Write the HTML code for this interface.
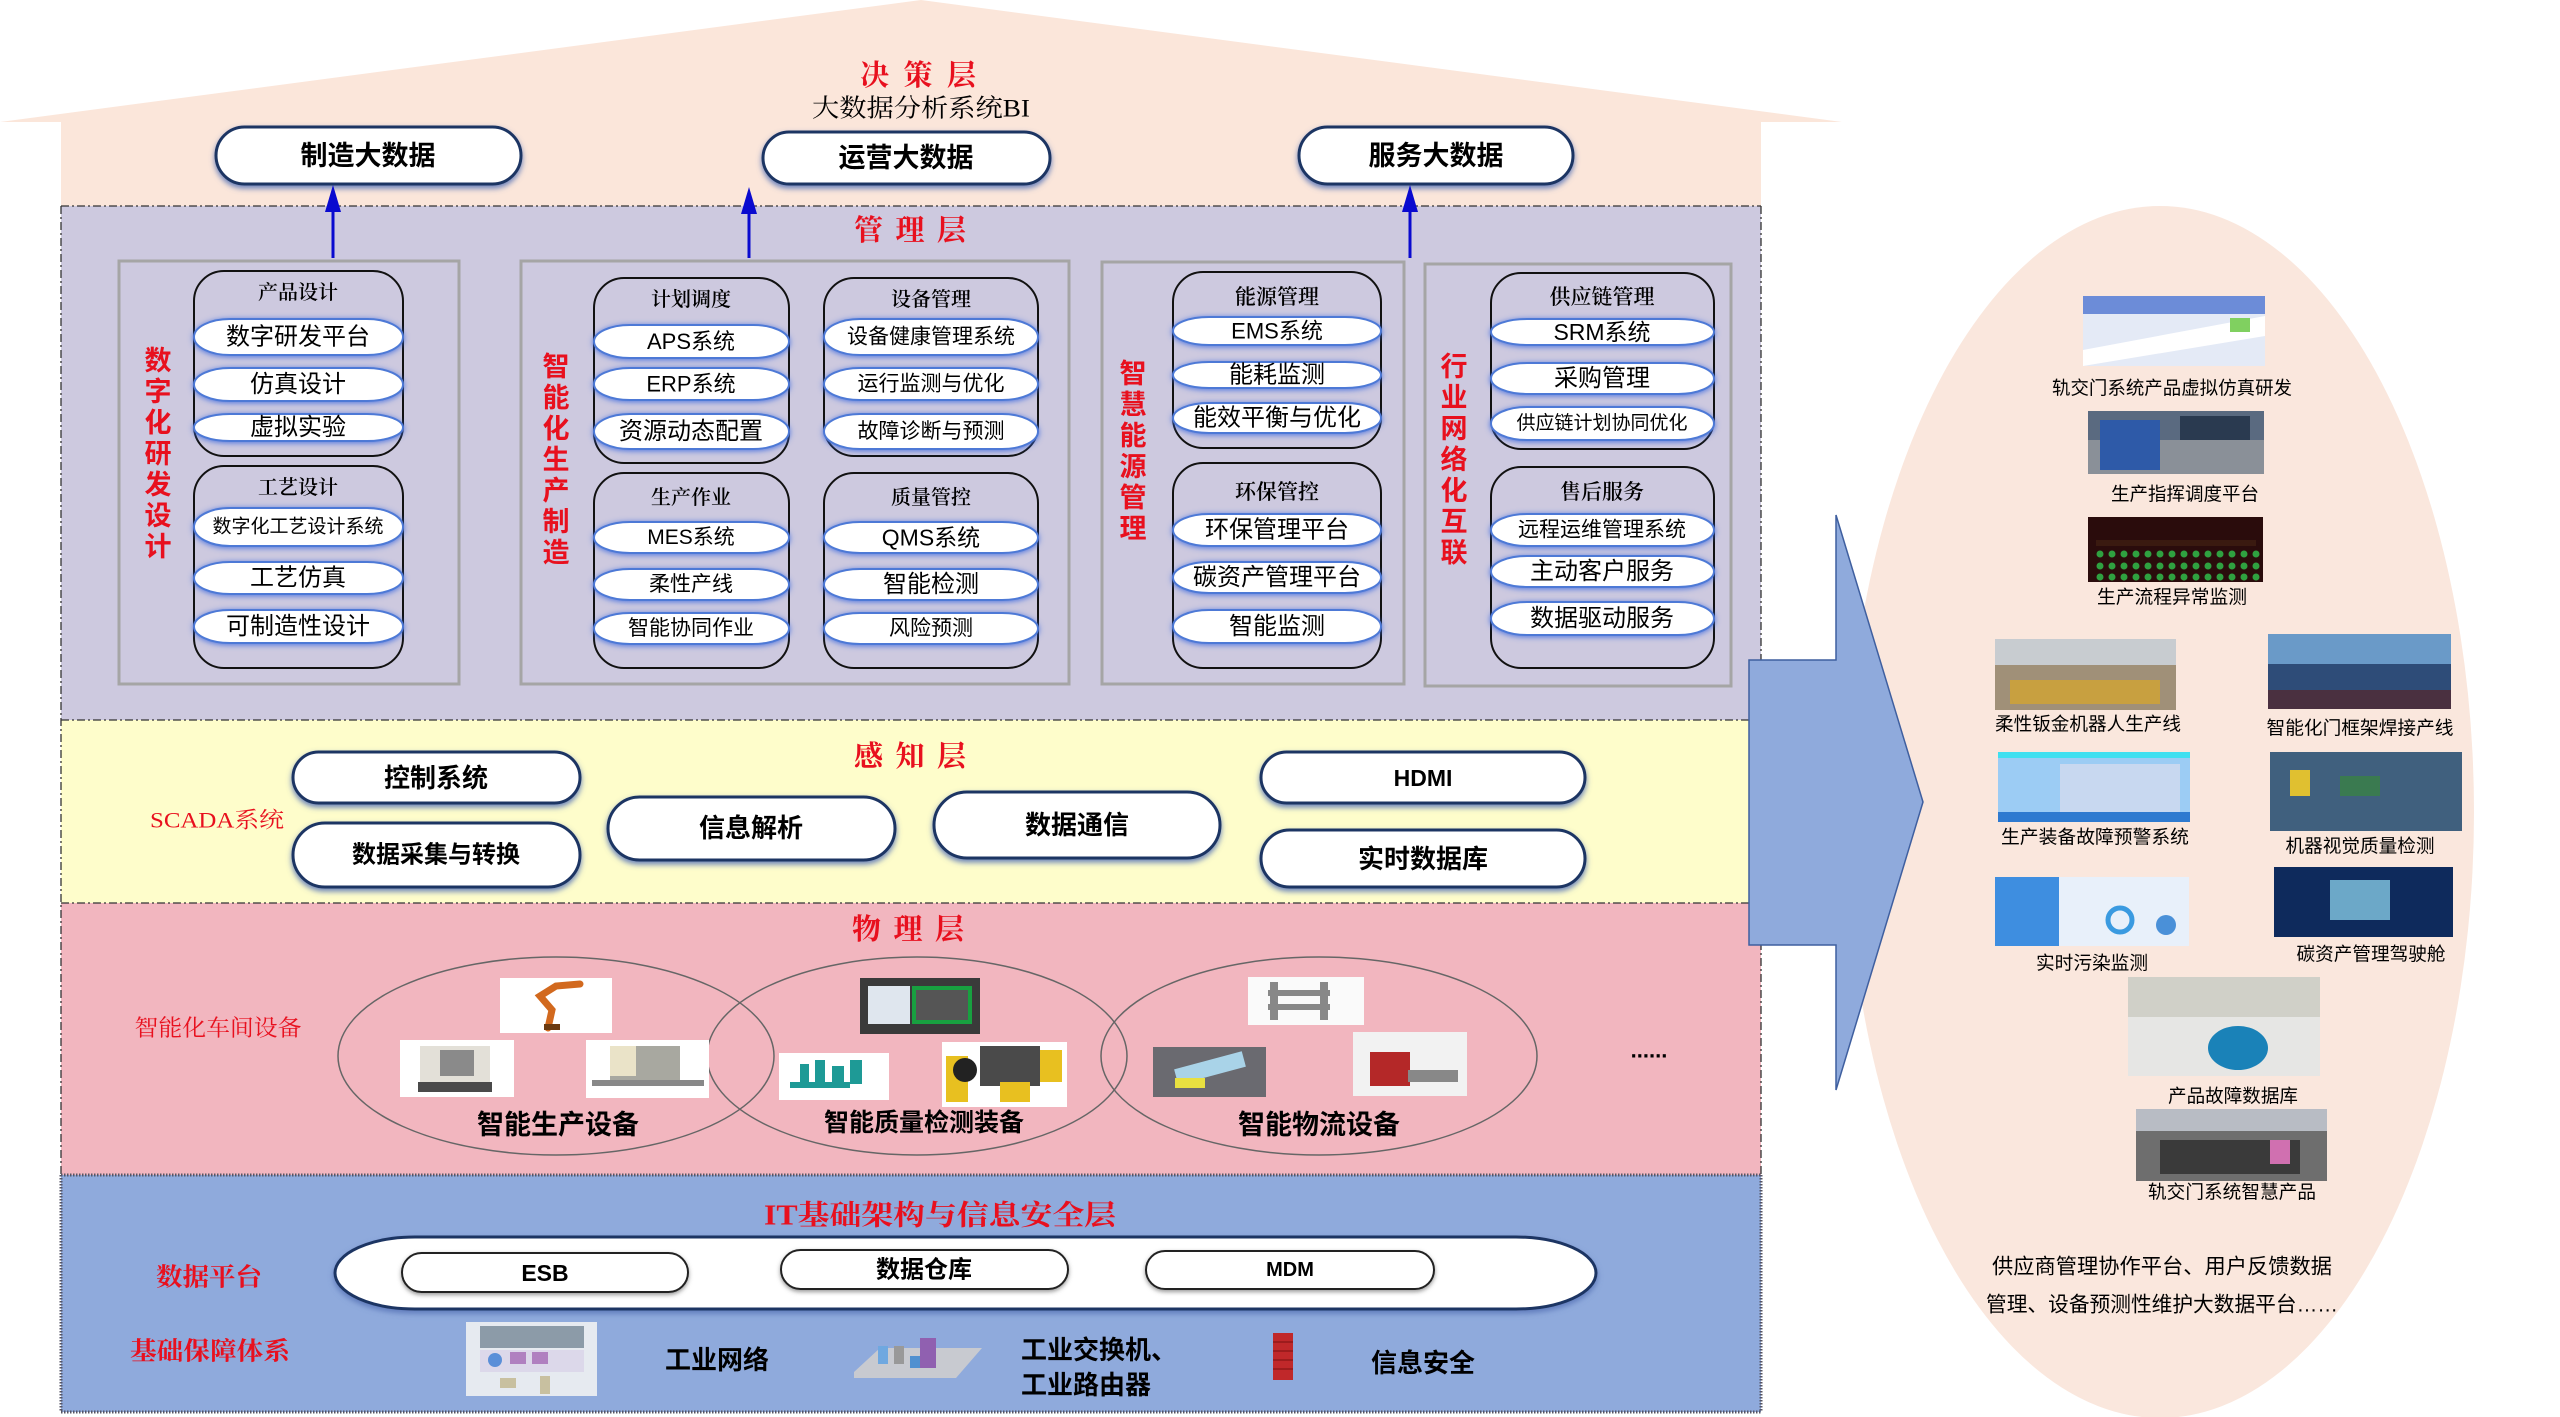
<!DOCTYPE html>
<html><head><meta charset="utf-8">
<style>
html,body{margin:0;padding:0;background:#fff;}
svg{display:block}
text{dominant-baseline:central;text-anchor:middle;fill:#000;}
.s{font-family:"Liberation Sans","Noto Sans CJK SC",sans-serif;}
.sf{font-family:"Liberation Serif","Noto Serif CJK SC",serif;}
.b{font-weight:bold}
text.r{fill:#E8101E}
.mp{fill:#fff;stroke:#4D79D6;stroke-width:2;filter:url(#glow)}
.tp{fill:#fff;stroke:#1F3563;stroke-width:3;filter:url(#sh)}
.ip{fill:#fff;stroke:#222;stroke-width:2;filter:url(#sh2)}
.grp{fill:none;stroke:#111;stroke-width:2}
.box{fill:none;stroke:#A5A5A5;stroke-width:3}
text.l{text-anchor:start}
</style></head><body>
<svg width="2560" height="1417" viewBox="0 0 2560 1417" xmlns="http://www.w3.org/2000/svg">
<defs>
<filter id="glow" x="-20%" y="-60%" width="140%" height="220%"><feDropShadow dx="0" dy="1" stdDeviation="3" flood-color="#3D6AE0" flood-opacity="0.9"/></filter>
<filter id="sh" x="-20%" y="-60%" width="140%" height="220%"><feDropShadow dx="0" dy="3" stdDeviation="3" flood-color="#5874B8" flood-opacity="0.9"/></filter>
<filter id="sh2" x="-20%" y="-60%" width="140%" height="220%"><feDropShadow dx="0" dy="2" stdDeviation="2" flood-color="#555" flood-opacity="0.6"/></filter>
</defs>

<!-- right ellipse -->
<ellipse cx="2160" cy="812" rx="314" ry="606" fill="#FAE7DD"/>

<!-- roof / decision layer -->
<polygon points="0,122 921,0 1842,122" fill="#FBE6DA"/>
<rect x="61" y="121" width="1700" height="86" fill="#FBE6DA"/>

<!-- layers -->
<rect x="61" y="206" width="1700" height="514" fill="#CDC9DF"/>
<rect x="61" y="720" width="1700" height="183" fill="#FEFDCB"/>
<rect x="61" y="903" width="1700" height="272" fill="#F2B6BF"/>
<rect x="61" y="1175" width="1700" height="237" fill="#8FAADC"/>
<path d="M61,206 H1761 M61,206 V1175 M1761,206 V1175 M61,720 H1761 M61,903 H1761" stroke="#333" stroke-width="1.3" stroke-dasharray="8,3,2,3" fill="none"/>
<path d="M61,1175 H1761 M61,1412 H1761 M1761,1175 V1412 M61,1175 V1412" stroke="#556" stroke-width="3" stroke-dasharray="1.5,1.5" fill="none"/>

<!-- decision layer text -->
<text class="sf b r" x="918" y="76" font-size="29" textLength="116" lengthAdjust="spacing">决策层</text>
<text class="sf" x="921" y="109" font-size="25" textLength="218" lengthAdjust="spacingAndGlyphs">大数据分析系统BI</text>

<rect class="tp" x="216" y="127" width="305" height="57" rx="28.5"/>
<text class="s b" x="368" y="156" font-size="27">制造大数据</text>
<rect class="tp" x="763" y="132" width="287" height="52" rx="26"/>
<text class="s b" x="906" y="158" font-size="27">运营大数据</text>
<rect class="tp" x="1299" y="127" width="274" height="57" rx="28.5"/>
<text class="s b" x="1436" y="156" font-size="27">服务大数据</text>

<!-- arrows -->
<g stroke="#0A0ACF" stroke-width="3">
<line x1="333" y1="258" x2="333" y2="205"/>
<line x1="749" y1="258" x2="749" y2="207"/>
<line x1="1410" y1="258" x2="1410" y2="205"/>
</g>
<g fill="#0A0ACF">
<polygon points="325,212 333,185 341,212"/>
<polygon points="741,214 749,187 757,214"/>
<polygon points="1402,212 1410,185 1418,212"/>
</g>

<text class="sf b r" x="910" y="231" font-size="29" textLength="112" lengthAdjust="spacing">管理层</text>

<!-- management boxes -->
<rect class="box" x="119" y="261" width="340" height="423"/>
<rect class="box" x="521" y="261" width="548" height="423"/>
<rect class="box" x="1102" y="262" width="302" height="422"/>
<rect class="box" x="1425" y="264" width="306" height="422"/>

<!-- vertical red labels -->
<g class="s b" font-size="27">
<text class="r" x="158" y="361">数</text><text class="r" x="158" y="392">字</text><text class="r" x="158" y="423">化</text><text class="r" x="158" y="454">研</text><text class="r" x="158" y="485">发</text><text class="r" x="158" y="516">设</text><text class="r" x="158" y="547">计</text>
<text class="r" x="556" y="367">智</text><text class="r" x="556" y="398">能</text><text class="r" x="556" y="429">化</text><text class="r" x="556" y="460">生</text><text class="r" x="556" y="491">产</text><text class="r" x="556" y="522">制</text><text class="r" x="556" y="553">造</text>
<text class="r" x="1133" y="374">智</text><text class="r" x="1133" y="405">慧</text><text class="r" x="1133" y="436">能</text><text class="r" x="1133" y="467">源</text><text class="r" x="1133" y="498">管</text><text class="r" x="1133" y="529">理</text>
<text class="r" x="1454" y="367">行</text><text class="r" x="1454" y="398">业</text><text class="r" x="1454" y="429">网</text><text class="r" x="1454" y="460">络</text><text class="r" x="1454" y="491">化</text><text class="r" x="1454" y="522">互</text><text class="r" x="1454" y="553">联</text>
</g>

<!-- groups -->
<rect class="grp" x="194" y="271" width="209" height="185" rx="30"/>
<rect class="grp" x="194" y="466" width="209" height="202" rx="30"/>
<rect class="grp" x="594" y="278" width="195" height="185" rx="30"/>
<rect class="grp" x="824" y="278" width="214" height="178" rx="30"/>
<rect class="grp" x="594" y="473" width="195" height="195" rx="30"/>
<rect class="grp" x="824" y="473" width="214" height="195" rx="30"/>
<rect class="grp" x="1173" y="272" width="208" height="176" rx="30"/>
<rect class="grp" x="1173" y="463" width="208" height="205" rx="30"/>
<rect class="grp" x="1491" y="273" width="223" height="176" rx="30"/>
<rect class="grp" x="1491" y="467" width="223" height="201" rx="30"/>

<!-- group titles -->
<g class="sf" font-size="20" font-weight="600">
<text x="298" y="293">产品设计</text>
<text x="298" y="488">工艺设计</text>
<text x="691" y="300">计划调度</text>
<text x="931" y="300">设备管理</text>
<text x="691" y="498">生产作业</text>
<text x="931" y="498">质量管控</text>
<text x="1277" y="297" font-size="21">能源管理</text>
<text x="1277" y="492" font-size="21">环保管控</text>
<text x="1602" y="297" font-size="21">供应链管理</text>
<text x="1602" y="492" font-size="21">售后服务</text>
</g>

<!-- management pills -->
<g>
<rect class="mp" x="194" y="319" width="209" height="36" rx="36" ry="18"/>
<rect class="mp" x="194" y="368" width="209" height="33" rx="36" ry="16.5"/>
<rect class="mp" x="194" y="414" width="209" height="27" rx="36" ry="13.5"/>
<rect class="mp" x="194" y="508" width="209" height="38" rx="36" ry="19"/>
<rect class="mp" x="194" y="562" width="209" height="32" rx="36" ry="16"/>
<rect class="mp" x="194" y="610" width="209" height="33" rx="36" ry="16.5"/>

<rect class="mp" x="594" y="325" width="195" height="33" rx="36" ry="16.5"/>
<rect class="mp" x="594" y="368" width="195" height="32" rx="36" ry="16"/>
<rect class="mp" x="594" y="414" width="195" height="35" rx="36" ry="17.5"/>
<rect class="mp" x="824" y="319" width="214" height="36" rx="36" ry="18"/>
<rect class="mp" x="824" y="368" width="214" height="32" rx="36" ry="16"/>
<rect class="mp" x="824" y="414" width="214" height="35" rx="36" ry="17.5"/>
<rect class="mp" x="594" y="522" width="195" height="31" rx="36" ry="15.5"/>
<rect class="mp" x="594" y="569" width="195" height="31" rx="36" ry="15.5"/>
<rect class="mp" x="594" y="613" width="195" height="31" rx="36" ry="15.5"/>
<rect class="mp" x="824" y="522" width="214" height="31" rx="36" ry="15.5"/>
<rect class="mp" x="824" y="569" width="214" height="31" rx="36" ry="15.5"/>
<rect class="mp" x="824" y="613" width="214" height="31" rx="36" ry="15.5"/>

<rect class="mp" x="1173" y="317" width="208" height="28" rx="36" ry="14"/>
<rect class="mp" x="1173" y="362" width="208" height="26" rx="36" ry="13"/>
<rect class="mp" x="1173" y="403" width="208" height="30" rx="36" ry="15"/>
<rect class="mp" x="1173" y="514" width="208" height="32" rx="36" ry="16"/>
<rect class="mp" x="1173" y="562" width="208" height="31" rx="36" ry="15.5"/>
<rect class="mp" x="1173" y="610" width="208" height="33" rx="36" ry="16.5"/>

<rect class="mp" x="1491" y="319" width="223" height="26" rx="36" ry="13"/>
<rect class="mp" x="1491" y="363" width="223" height="31" rx="36" ry="15.5"/>
<rect class="mp" x="1491" y="407" width="223" height="33" rx="36" ry="16.5"/>
<rect class="mp" x="1491" y="514" width="223" height="32" rx="36" ry="16"/>
<rect class="mp" x="1491" y="556" width="223" height="31" rx="36" ry="15.5"/>
<rect class="mp" x="1491" y="602" width="223" height="33" rx="36" ry="16.5"/>
</g>
<g class="s">
<text x="298" y="337" font-size="24">数字研发平台</text>
<text x="298" y="384.5" font-size="24">仿真设计</text>
<text x="298" y="427.5" font-size="24">虚拟实验</text>
<text x="298" y="527" font-size="19">数字化工艺设计系统</text>
<text x="298" y="578" font-size="24">工艺仿真</text>
<text x="298" y="626.5" font-size="24">可制造性设计</text>

<text x="691" y="341.5" font-size="22">APS系统</text>
<text x="691" y="384" font-size="22">ERP系统</text>
<text x="691" y="431.5" font-size="24">资源动态配置</text>
<text x="931" y="337" font-size="21">设备健康管理系统</text>
<text x="931" y="384" font-size="21">运行监测与优化</text>
<text x="931" y="431.5" font-size="21">故障诊断与预测</text>
<text x="691" y="537.5" font-size="21">MES系统</text>
<text x="691" y="584.5" font-size="21">柔性产线</text>
<text x="691" y="628.5" font-size="21">智能协同作业</text>
<text x="931" y="537.5" font-size="23">QMS系统</text>
<text x="931" y="584.5" font-size="24">智能检测</text>
<text x="931" y="628.5" font-size="21">风险预测</text>

<text x="1277" y="331" font-size="22">EMS系统</text>
<text x="1277" y="375" font-size="24">能耗监测</text>
<text x="1277" y="418" font-size="24">能效平衡与优化</text>
<text x="1277" y="530" font-size="24">环保管理平台</text>
<text x="1277" y="577.5" font-size="24">碳资产管理平台</text>
<text x="1277" y="626.5" font-size="24">智能监测</text>

<text x="1602" y="332" font-size="23">SRM系统</text>
<text x="1602" y="378.5" font-size="24">采购管理</text>
<text x="1602" y="423.5" font-size="19">供应链计划协同优化</text>
<text x="1602" y="530" font-size="21">远程运维管理系统</text>
<text x="1602" y="571.5" font-size="24">主动客户服务</text>
<text x="1602" y="618.5" font-size="24">数据驱动服务</text>
</g>

<!-- sensing layer -->
<text class="sf b r" x="910" y="757" font-size="29" textLength="112" lengthAdjust="spacing">感知层</text>
<text class="sf r" x="217" y="820" font-size="22" textLength="134" lengthAdjust="spacingAndGlyphs">SCADA系统</text>

<rect class="tp" x="293" y="752" width="287" height="51" rx="25.5"/>
<text class="s b" x="436" y="778" font-size="26">控制系统</text>
<rect class="tp" x="293" y="823" width="287" height="64" rx="32"/>
<text class="s b" x="436" y="855" font-size="24">数据采集与转换</text>
<rect class="tp" x="608" y="797" width="287" height="63" rx="31.5"/>
<text class="s b" x="751" y="828" font-size="26">信息解析</text>
<rect class="tp" x="934" y="792" width="286" height="66" rx="33"/>
<text class="s b" x="1077" y="825" font-size="26">数据通信</text>
<rect class="tp" x="1261" y="752" width="324" height="51" rx="25.5"/>
<text class="s b" x="1423" y="778" font-size="23">HDMI</text>
<rect class="tp" x="1261" y="830" width="324" height="57" rx="28.5"/>
<text class="s b" x="1423" y="859" font-size="26">实时数据库</text>

<!-- physical layer -->
<text class="sf b r" x="908" y="930" font-size="29" textLength="112" lengthAdjust="spacing">物理层</text>
<text class="sf r" x="218" y="1028" font-size="23" textLength="167" lengthAdjust="spacingAndGlyphs">智能化车间设备</text>

<g fill="none" stroke="#666" stroke-width="1.5">
<ellipse cx="556" cy="1056" rx="218" ry="99"/>
<ellipse cx="917" cy="1056" rx="210" ry="99"/>
<ellipse cx="1319" cy="1056" rx="218" ry="99"/>
</g>
<!-- equipment images -->
<rect x="500" y="978" width="112" height="55" fill="#fff"/>
<path d="M548,1028 L552,1010 L540,996 L556,986 L580,984" stroke="#D2691E" stroke-width="7" fill="none" stroke-linecap="round"/>
<rect x="544" y="1024" width="16" height="6" fill="#6b3a10"/>
<rect x="400" y="1040" width="114" height="57" fill="#fff"/>
<rect x="420" y="1046" width="70" height="36" fill="#E3E0D8"/>
<rect x="440" y="1050" width="34" height="26" fill="#8A8A8A"/>
<rect x="418" y="1082" width="74" height="10" fill="#4a4a4a"/>
<rect x="586" y="1040" width="123" height="58" fill="#fff"/>
<rect x="610" y="1046" width="70" height="34" fill="#A8A8A0"/>
<rect x="610" y="1046" width="26" height="30" fill="#EAE3C8"/>
<rect x="592" y="1080" width="112" height="6" fill="#888"/>
<rect x="860" y="978" width="120" height="56" fill="#3a3a3a"/>
<rect x="868" y="986" width="42" height="38" fill="#dfe6ee"/>
<rect x="912" y="986" width="60" height="38" fill="#18a040"/>
<rect x="916" y="990" width="52" height="30" fill="#555"/>
<rect x="779" y="1053" width="110" height="47" fill="#fff"/>
<g fill="#1E9A96"><rect x="800" y="1064" width="9" height="22"/><rect x="815" y="1060" width="10" height="28"/><rect x="832" y="1066" width="12" height="18"/><rect x="850" y="1060" width="12" height="24"/><rect x="790" y="1082" width="60" height="6"/></g>
<rect x="942" y="1042" width="125" height="65" fill="#fff"/>
<rect x="980" y="1046" width="60" height="40" fill="#4a4a4a"/>
<rect x="946" y="1056" width="22" height="46" fill="#E8C020"/>
<circle cx="965" cy="1070" r="12" fill="#222"/>
<rect x="1040" y="1050" width="22" height="32" fill="#E8C020"/>
<rect x="1000" y="1082" width="30" height="20" fill="#E8C020"/>
<rect x="1248" y="977" width="116" height="48" fill="#fafafa"/>
<g fill="#888"><rect x="1270" y="982" width="8" height="38"/><rect x="1320" y="982" width="8" height="38"/><rect x="1268" y="990" width="62" height="6"/><rect x="1268" y="1004" width="62" height="6"/></g>
<rect x="1153" y="1047" width="113" height="50" fill="#6a6a70"/>
<rect x="1175" y="1060" width="70" height="16" fill="#A9D3E8" transform="rotate(-15 1210 1068)"/>
<rect x="1175" y="1078" width="30" height="10" fill="#E8E040"/>
<rect x="1353" y="1032" width="114" height="64" fill="#f2f2f2"/>
<rect x="1370" y="1052" width="40" height="34" fill="#B42828"/>
<rect x="1408" y="1070" width="50" height="12" fill="#888"/>

<g class="s b" font-size="27">
<text x="558" y="1125">智能生产设备</text>
<text x="924" y="1123" font-size="25">智能质量检测装备</text>
<text x="1319" y="1125">智能物流设备</text>
</g>
<text class="s b" x="1649" y="1050" font-size="22">......</text>

<!-- IT layer -->
<text class="sf b r" x="940" y="1216" font-size="28" textLength="352" lengthAdjust="spacingAndGlyphs">IT基础架构与信息安全层</text>
<rect class="tp" x="335" y="1237" width="1261" height="72" rx="80" ry="36"/>
<rect class="ip" x="402" y="1253" width="286" height="39" rx="19.5"/>
<text class="s b" x="545" y="1273" font-size="23">ESB</text>
<rect class="ip" x="781" y="1250" width="287" height="39" rx="19.5"/>
<text class="s b" x="924" y="1270" font-size="24">数据仓库</text>
<rect class="ip" x="1146" y="1251" width="288" height="38" rx="19"/>
<text class="s b" x="1290" y="1270" font-size="20">MDM</text>

<text class="sf b r" x="209" y="1278" font-size="25" textLength="106" lengthAdjust="spacingAndGlyphs">数据平台</text>
<text class="sf b r" x="210" y="1352" font-size="25" textLength="160" lengthAdjust="spacingAndGlyphs">基础保障体系</text>

<rect x="466" y="1322" width="131" height="74" fill="#E6EAF0"/>
<rect x="480" y="1326" width="104" height="22" fill="#8C9BA8"/>
<rect x="480" y="1350" width="104" height="22" fill="#DCD8EA"/>
<circle cx="495" cy="1360" r="7" fill="#5B8FD8"/>
<rect x="510" y="1352" width="16" height="12" fill="#B080C0"/>
<rect x="532" y="1352" width="16" height="12" fill="#B080C0"/>
<rect x="500" y="1378" width="16" height="10" fill="#C8C0A0"/>
<rect x="540" y="1376" width="10" height="18" fill="#C8C0A0"/>
<text class="s b" x="717" y="1360" font-size="26">工业网络</text>

<polygon points="854,1372 880,1348 982,1348 956,1378 854,1378" fill="#C8CAD0"/>
<rect x="878" y="1346" width="10" height="18" fill="#6FA8E0"/>
<rect x="894" y="1346" width="10" height="18" fill="#999"/>
<rect x="920" y="1338" width="16" height="30" fill="#9060B0"/>
<rect x="910" y="1356" width="10" height="12" fill="#5090D0"/>
<text class="s b l" x="1021" y="1350" font-size="26">工业交换机、</text>
<text class="s b l" x="1021" y="1385" font-size="26">工业路由器</text>

<rect x="1273" y="1333" width="20" height="47" fill="#C0282A"/>
<g stroke="#7a1010" stroke-width="1"><line x1="1273" y1="1342" x2="1293" y2="1342"/><line x1="1273" y1="1351" x2="1293" y2="1351"/><line x1="1273" y1="1360" x2="1293" y2="1360"/><line x1="1273" y1="1369" x2="1293" y2="1369"/></g>
<text class="s b" x="1423" y="1363" font-size="26">信息安全</text>

<!-- big arrow -->
<polygon points="1749,660 1836,660 1836,515 1923,802 1836,1090 1836,945 1749,945" fill="#8FAADC" stroke="#3F5F9F" stroke-width="1.5"/>

<!-- ellipse images -->
<rect x="2083" y="296" width="182" height="70" fill="#E4EAF6"/>
<rect x="2083" y="296" width="182" height="18" fill="#6C8CD8"/>
<path d="M2083,350 L2265,316 L2265,336 L2083,366 Z" fill="#FFFFFF"/>
<rect x="2230" y="318" width="20" height="14" fill="#80D060"/>
<rect x="2088" y="411" width="176" height="63" fill="#5A6A80"/>
<rect x="2088" y="440" width="176" height="34" fill="#8A9098"/>
<rect x="2100" y="420" width="60" height="50" fill="#2E5AA8"/>
<rect x="2180" y="416" width="70" height="24" fill="#2A3A50"/>
<rect x="2088" y="517" width="175" height="65" fill="#2A0C0C"/>
<g fill="#2FA040">
<rect x="2096" y="540" width="160" height="6" fill="#3a1a10"/>
<circle cx="2100" cy="554" r="3.5"/><circle cx="2112" cy="554" r="3.5"/><circle cx="2124" cy="554" r="3.5"/><circle cx="2136" cy="554" r="3.5"/><circle cx="2148" cy="554" r="3.5"/><circle cx="2160" cy="554" r="3.5"/><circle cx="2172" cy="554" r="3.5"/><circle cx="2184" cy="554" r="3.5"/><circle cx="2196" cy="554" r="3.5"/><circle cx="2208" cy="554" r="3.5"/><circle cx="2220" cy="554" r="3.5"/><circle cx="2232" cy="554" r="3.5"/><circle cx="2244" cy="554" r="3.5"/><circle cx="2256" cy="554" r="3.5"/>
<circle cx="2100" cy="566" r="3.5"/><circle cx="2112" cy="566" r="3.5"/><circle cx="2124" cy="566" r="3.5"/><circle cx="2136" cy="566" r="3.5"/><circle cx="2148" cy="566" r="3.5"/><circle cx="2160" cy="566" r="3.5"/><circle cx="2172" cy="566" r="3.5"/><circle cx="2184" cy="566" r="3.5"/><circle cx="2196" cy="566" r="3.5"/><circle cx="2208" cy="566" r="3.5"/><circle cx="2220" cy="566" r="3.5"/><circle cx="2232" cy="566" r="3.5"/><circle cx="2244" cy="566" r="3.5"/><circle cx="2256" cy="566" r="3.5"/>
<circle cx="2100" cy="577" r="3.5"/><circle cx="2112" cy="577" r="3.5"/><circle cx="2124" cy="577" r="3.5"/><circle cx="2136" cy="577" r="3.5"/><circle cx="2148" cy="577" r="3.5"/><circle cx="2160" cy="577" r="3.5"/><circle cx="2172" cy="577" r="3.5"/><circle cx="2184" cy="577" r="3.5"/><circle cx="2196" cy="577" r="3.5"/><circle cx="2208" cy="577" r="3.5"/><circle cx="2220" cy="577" r="3.5"/><circle cx="2232" cy="577" r="3.5"/><circle cx="2244" cy="577" r="3.5"/><circle cx="2256" cy="577" r="3.5"/>
</g>
<rect x="1995" y="639" width="181" height="71" fill="#A09078"/>
<rect x="1995" y="639" width="181" height="26" fill="#C8CCD0"/>
<rect x="2010" y="680" width="150" height="24" fill="#C8A040"/>
<rect x="2268" y="634" width="183" height="75" fill="#2E4C78"/>
<rect x="2268" y="634" width="183" height="30" fill="#6A9AC8"/>
<rect x="2268" y="690" width="183" height="19" fill="#4A3040"/>
<rect x="1998" y="752" width="192" height="70" fill="#9CCCF4"/>
<rect x="1998" y="752" width="192" height="6" fill="#40E0F0"/>
<rect x="2060" y="764" width="120" height="50" fill="#C8D8F0"/>
<rect x="1998" y="812" width="192" height="10" fill="#2E7AD0"/>
<rect x="2270" y="752" width="192" height="79" fill="#40607E"/>
<rect x="2290" y="770" width="20" height="26" fill="#E0C030"/>
<rect x="2340" y="776" width="40" height="20" fill="#3A7A50"/>
<rect x="1995" y="877" width="194" height="69" fill="#E8F0FA"/>
<rect x="1995" y="877" width="64" height="69" fill="#3E8EE0"/>
<circle cx="2120" cy="920" r="12" fill="none" stroke="#3A9AE0" stroke-width="5"/>
<circle cx="2166" cy="925" r="10" fill="#4A90D8"/>
<rect x="2274" y="867" width="179" height="70" fill="#0E2A5C"/>
<rect x="2330" y="880" width="60" height="40" fill="#6CA8C8"/>
<rect x="2128" y="977" width="192" height="99" fill="#E6E6E4"/>
<rect x="2128" y="977" width="192" height="40" fill="#D0D0C8"/>
<ellipse cx="2238" cy="1048" rx="30" ry="22" fill="#1A82B8"/>
<rect x="2136" y="1109" width="191" height="72" fill="#6E6E6E"/>
<rect x="2136" y="1109" width="191" height="22" fill="#B8BCC4"/>
<rect x="2160" y="1140" width="140" height="34" fill="#3A3A3A"/>
<rect x="2270" y="1140" width="20" height="24" fill="#D070B0"/>

<g class="s" font-size="18.5">
<text x="2172" y="388" textLength="240" lengthAdjust="spacingAndGlyphs">轨交门系统产品虚拟仿真研发</text>
<text x="2185" y="494" textLength="148" lengthAdjust="spacingAndGlyphs">生产指挥调度平台</text>
<text x="2172" y="597" textLength="150" lengthAdjust="spacingAndGlyphs">生产流程异常监测</text>
<text x="2088" y="724" textLength="186" lengthAdjust="spacingAndGlyphs">柔性钣金机器人生产线</text>
<text x="2360" y="728" textLength="187" lengthAdjust="spacingAndGlyphs">智能化门框架焊接产线</text>
<text x="2095" y="837" textLength="188" lengthAdjust="spacingAndGlyphs">生产装备故障预警系统</text>
<text x="2360" y="846" textLength="149" lengthAdjust="spacingAndGlyphs">机器视觉质量检测</text>
<text x="2092" y="963" textLength="112" lengthAdjust="spacingAndGlyphs">实时污染监测</text>
<text x="2371" y="954" textLength="149" lengthAdjust="spacingAndGlyphs">碳资产管理驾驶舱</text>
<text x="2233" y="1096" textLength="130" lengthAdjust="spacingAndGlyphs">产品故障数据库</text>
<text x="2232" y="1192" textLength="168" lengthAdjust="spacingAndGlyphs">轨交门系统智慧产品</text>
<text x="2162" y="1267" font-size="21" textLength="340" lengthAdjust="spacingAndGlyphs">供应商管理协作平台、用户反馈数据</text>
<text x="2162" y="1305" font-size="21" textLength="352" lengthAdjust="spacingAndGlyphs">管理、设备预测性维护大数据平台……</text>
</g>
</svg>
</body></html>
